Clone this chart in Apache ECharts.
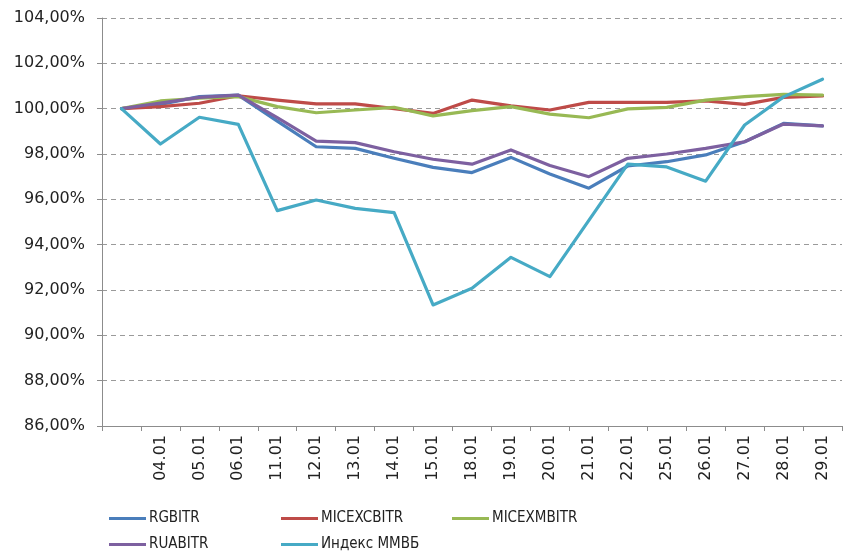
<!DOCTYPE html>
<html><head><meta charset="utf-8">
<script src="https://cdn.jsdelivr.net/npm/echarts@6/dist/echarts.min.js"></script>
<style>html,body{margin:0;padding:0;background:#fff}#c{width:846px;height:551px}</style>
</head><body><div id="c"></div>
<script>
const categories = ['', '04.01', '05.01', '06.01', '11.01', '12.01', '13.01', '14.01', '15.01', '18.01', '19.01', '20.01', '21.01', '22.01', '25.01', '26.01', '27.01', '28.01', '29.01'];
const rgbitr    = [100, 100.19, 100.53, 100.60, 99.45, 98.32, 98.25, 97.81, 97.41, 97.18, 97.85, 97.12, 96.49, 97.47, 97.66, 97.96, 98.54, 99.35, 99.24];
const micexcbitr= [100, 100.09, 100.24, 100.57, 100.38, 100.21, 100.21, 100.00, 99.79, 100.38, 100.12, 99.94, 100.28, 100.28, 100.28, 100.34, 100.19, 100.50, 100.56];
const micexmbitr= [100, 100.34, 100.46, 100.53, 100.09, 99.82, 99.94, 100.06, 99.68, 99.91, 100.09, 99.76, 99.60, 99.99, 100.06, 100.38, 100.53, 100.63, 100.60];
const ruabitr   = [100, 100.25, 100.50, 100.60, 99.60, 98.57, 98.50, 98.10, 97.77, 97.55, 98.18, 97.49, 97.00, 97.81, 98.00, 98.25, 98.54, 99.32, 99.24];
const mmvb      = [100, 98.44, 99.62, 99.31, 95.50, 95.97, 95.60, 95.41, 91.34, 92.08, 93.44, 92.59, 95.07, 97.55, 97.43, 96.80, 99.28, 100.52, 101.30];
const yTicks = {min: 86, max: 104, interval: 2};
const names = ['RGBITR', 'MICEXCBITR', 'MICEXMBITR', 'RUABITR', 'Индекс ММВБ'];
const colors = ['#4A7EBB', '#BE4B48', '#98B954', '#7D60A0', '#46AAC5'];
const seriesData = [rgbitr, micexcbitr, micexmbitr, ruabitr, mmvb];

const font = 'Tahoma, "DejaVu Sans", sans-serif';
const legendFont = '"Liberation Sans Narrow", "DejaVu Sans Condensed", "Liberation Sans", sans-serif';
const legendPos = [[104, 506], [276, 506], [447, 506], [104, 532], [276, 532]];
const chart = echarts.init(document.getElementById('c'), null, {renderer: 'canvas'});
chart.setOption({
  animation: false,
  backgroundColor: '#fff',
  grid: {left: 102, right: 4, top: 18, bottom: 125, containLabel: false},
  legend: names.map((n, i) => ({
    data: [n], left: legendPos[i][0], top: legendPos[i][1], icon: 'rect',
    itemWidth: 37, itemHeight: 3, itemGap: 3,
    textStyle: {fontFamily: legendFont, fontSize: 15, color: '#222', padding: [0, 0, 0, -2]}
  })),
  xAxis: {
    type: 'category', data: categories, boundaryGap: true,
    axisLine: {lineStyle: {color: '#8c8c8c', width: 1}},
    axisTick: {show: true, alignWithLabel: false, length: 5, lineStyle: {color: '#8c8c8c'}},
    axisLabel: {rotate: 90, interval: 0, fontFamily: font, fontSize: 16, color: '#222', margin: 9},
    splitLine: {show: false}
  },
  yAxis: {
    type: 'value', min: yTicks.min, max: yTicks.max, interval: yTicks.interval,
    axisLine: {show: true, lineStyle: {color: '#8c8c8c', width: 1}},
    axisTick: {show: true, length: 5, lineStyle: {color: '#8c8c8c'}},
    axisLabel: {fontFamily: font, fontSize: 16, color: '#222', margin: 17,
      formatter: v => v.toFixed(2).replace('.', ',') + '%'},
    splitLine: {show: true, lineStyle: {color: '#9a9a9a', type: [5, 4], width: 1}}
  },
  series: names.map((n, i) => ({
    name: n, type: 'line', data: seriesData[i], showSymbol: false, symbol: 'none',
    lineStyle: {color: colors[i], width: 3.2, join: 'round', cap: 'round'},
    itemStyle: {color: colors[i]}
  }))
});
</script></body></html>
